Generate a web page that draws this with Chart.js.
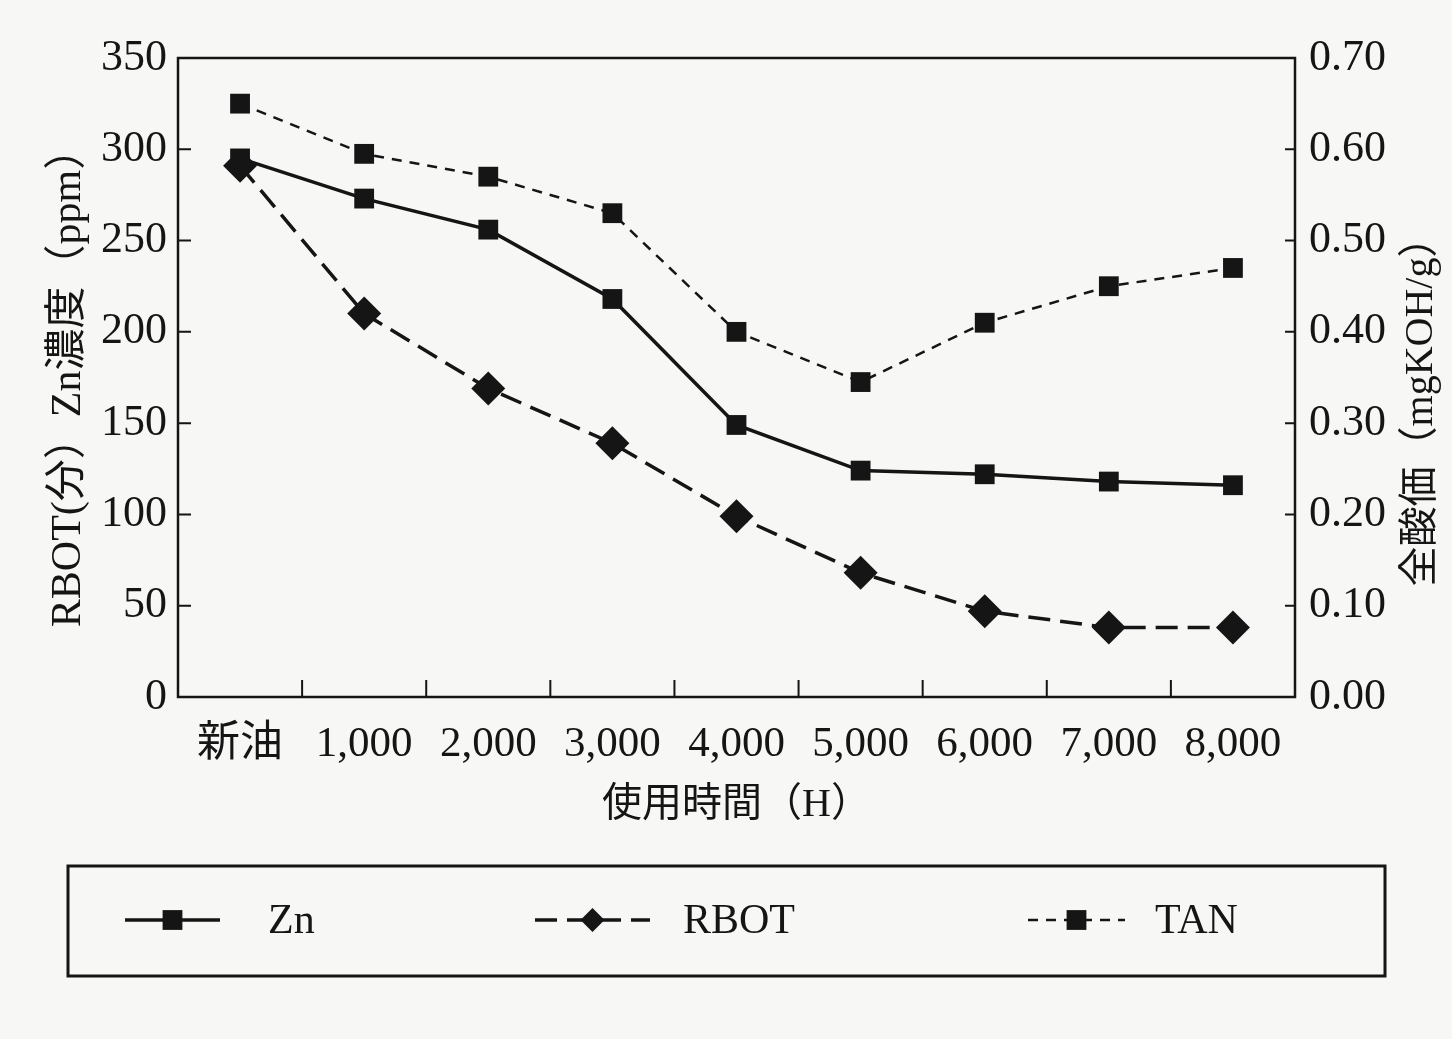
<!DOCTYPE html>
<html>
<head>
<meta charset="utf-8">
<script src="https://cdn.jsdelivr.net/npm/chart.js@4.4.1/dist/chart.umd.min.js"></script>
<style>
    html, body { margin: 0; background: #f7f7f5; }
    #wrap { width: 1452px; height: 1039px; }
</style>
</head>
<body>
<div id="wrap"><canvas id="chart"></canvas></div>
<script>
const hours = ["新油", "1,000", "2,000", "3,000", "4,000", "5,000", "6,000", "7,000", "8,000"]
const znValues = [295, 273, 256, 218, 149, 124, 122, 118, 116]
const rbotValues = [291, 210, 169, 139, 99, 68, 47, 38, 38]
const tanValues = [0.65, 0.595, 0.57, 0.53, 0.40, 0.345, 0.41, 0.45, 0.47]
const leftTicks = [0, 50, 100, 150, 200, 250, 300, 350]
const rightTicks = [0, 0.1, 0.2, 0.3, 0.4, 0.5, 0.6, 0.7]

const ink = "#151515"
const fontFamily = "'Liberation Serif', 'Noto Sans CJK JP', serif"

// inward tick marks, plot frame, right title and the boxed legend
const framePlugin = {
    id: "frame",
    afterDraw(chart) {
        const ctx = chart.ctx
        const area = chart.chartArea
        const x = chart.scales.x
        const y = chart.scales.y
        const y1 = chart.scales.y1

        ctx.save()
        ctx.strokeStyle = ink
        ctx.lineWidth = 2.5
        ctx.strokeRect(area.left, area.top, area.right - area.left, area.bottom - area.top)

        ctx.lineWidth = 2
        ctx.beginPath()
        leftTicks.slice(1, -1).forEach(v => {
            const py = y.getPixelForValue(v)
            ctx.moveTo(area.left, py)
            ctx.lineTo(area.left + 13, py)
        })
        rightTicks.slice(1, -1).forEach(v => {
            const py = y1.getPixelForValue(v)
            ctx.moveTo(area.right, py)
            ctx.lineTo(area.right - 10, py)
        })
        for (let i = 0; i < hours.length - 1; i++) {
            const px = (x.getPixelForValue(i) + x.getPixelForValue(i + 1)) / 2
            ctx.moveTo(px, area.bottom)
            ctx.lineTo(px, area.bottom - 17)
        }
        ctx.stroke()

        // right axis title, reads bottom to top
        ctx.fillStyle = ink
        ctx.font = `40px ${fontFamily}`
        ctx.textAlign = "center"
        ctx.textBaseline = "middle"
        ctx.translate(1421, 402)
        ctx.rotate(-Math.PI / 2)
        ctx.fillText("全酸価（mgKOH/g）", 0, 0)
        ctx.restore()

        // legend box
        ctx.save()
        ctx.strokeStyle = ink
        ctx.lineWidth = 3
        ctx.strokeRect(68, 866, 1317, 110)

        const slots = [
            { from: 125, to: 220, text: 268 },
            { from: 535, to: 650, text: 683 },
            { from: 1028, to: 1125, text: 1155 },
        ]
        const ly = 920
        chart.data.datasets.forEach(ds => {
            const s = slots[ds.legendSlot]
            ctx.strokeStyle = ink
            ctx.lineWidth = ds.borderWidth
            ctx.setLineDash(ds.borderDash || [])
            ctx.beginPath()
            ctx.moveTo(s.from, ly)
            ctx.lineTo(s.to, ly)
            ctx.stroke()
            ctx.setLineDash([])

            const mx = (s.from + s.to) / 2
            const h = ds.pointRadius * Math.SQRT1_2
            ctx.fillStyle = ink
            ctx.beginPath()
            if (ds.pointStyle === "rectRot") {
                ctx.moveTo(mx - h, ly)
                ctx.lineTo(mx, ly - h)
                ctx.lineTo(mx + h, ly)
                ctx.lineTo(mx, ly + h)
                ctx.closePath()
            } else {
                ctx.rect(mx - h, ly - h, 2 * h, 2 * h)
            }
            ctx.fill()

            ctx.font = `42px ${fontFamily}`
            ctx.textAlign = "left"
            ctx.textBaseline = "middle"
            ctx.fillText(ds.label, s.text, ly + 2)
        })
        ctx.restore()
    }
}

new Chart("chart", {
    type: "line",
    data: {
        labels: hours,
        datasets: [{
            label: "TAN",
            data: tanValues,
            yAxisID: "y1",
            borderColor: ink,
            backgroundColor: ink,
            borderWidth: 2.5,
            borderDash: [10, 8],
            pointStyle: "rect",
            pointRadius: 14,
            pointBorderWidth: 0,
            legendSlot: 2,
        }, {
            label: "Zn",
            data: znValues,
            yAxisID: "y",
            borderColor: ink,
            backgroundColor: ink,
            borderWidth: 3.5,
            pointStyle: "rect",
            pointRadius: 14,
            pointBorderWidth: 0,
            legendSlot: 0,
        }, {
            label: "RBOT",
            data: rbotValues,
            yAxisID: "y",
            borderColor: ink,
            backgroundColor: ink,
            borderWidth: 3.5,
            borderDash: [22, 10],
            pointStyle: "rectRot",
            pointRadius: 17,
            pointBorderWidth: 0,
            legendSlot: 1,
        }]
    },
    options: {
        responsive: true,
        maintainAspectRatio: false,
        animation: false,
        layout: {
            padding: { top: 58, left: 0, right: 0, bottom: 0 },
        },
        plugins: {
            legend: { display: false },
            tooltip: { enabled: false },
        },
        scales: {
            x: {
                type: "category",
                offset: true,
                grid: { display: false, drawTicks: false },
                border: { display: false },
                ticks: {
                    color: ink,
                    padding: 22,
                    maxRotation: 0,
                    autoSkip: false,
                    font: { family: fontFamily, size: 43 },
                },
                title: {
                    display: true,
                    text: "使用時間（H）",
                    color: ink,
                    font: { family: fontFamily, size: 40 },
                    padding: { top: 0, bottom: 210 },
                },
                afterFit(scale) {
                    scale.height = 342
                },
            },
            y: {
                position: "left",
                min: 0,
                max: 350,
                grid: { display: false, drawTicks: false },
                border: { display: false },
                ticks: {
                    stepSize: 50,
                    color: ink,
                    padding: 11,
                    font: { family: fontFamily, size: 44 },
                },
                title: {
                    display: true,
                    text: "RBOT(分）Zn濃度（ppm）",
                    color: ink,
                    font: { family: fontFamily, size: 42 },
                    padding: { top: 44, bottom: 0 },
                },
                afterFit(scale) {
                    scale.width = 178
                },
            },
            y1: {
                position: "right",
                min: 0,
                max: 0.7,
                grid: { display: false, drawTicks: false },
                border: { display: false },
                ticks: {
                    stepSize: 0.1,
                    color: ink,
                    padding: 14,
                    font: { family: fontFamily, size: 44 },
                    callback: v => Number(v).toFixed(2),
                },
                afterFit(scale) {
                    scale.width = 157
                },
            },
        },
    },
    plugins: [framePlugin],
})
</script>
</body>
</html>
